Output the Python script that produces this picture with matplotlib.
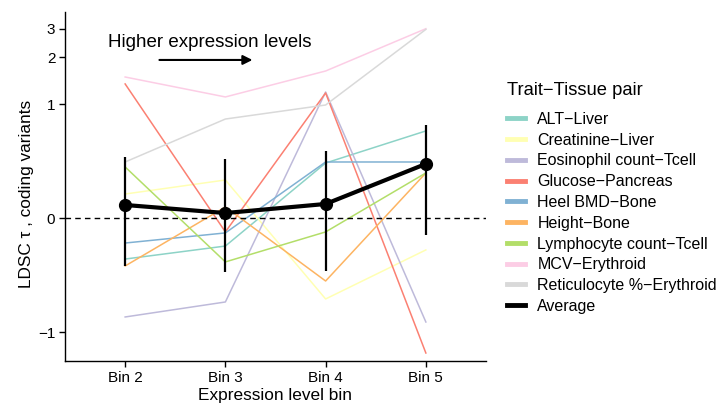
import numpy as np
import matplotlib
matplotlib.use("Agg")
import matplotlib.pyplot as plt
from matplotlib.lines import Line2D

plt.rcParams['font.family'] = ['Liberation Sans', 'DejaVu Sans']

# ---- data ----
bins = ["Bin 2", "Bin 3", "Bin 4", "Bin 5"]
pairs = ["ALT\u2212Liver", "Creatinine\u2212Liver", "Eosinophil count\u2212Tcell",
         "Glucose\u2212Pancreas", "Heel BMD\u2212Bone", "Height\u2212Bone",
         "Lymphocyte count\u2212Tcell", "MCV\u2212Erythroid", "Reticulocyte %\u2212Erythroid"]
colors = ["#8DD3C7", "#FFFFB3", "#BEBADA", "#FB8072", "#80B1D3",
          "#FDB462", "#B3DE69", "#FCCDE5", "#D9D9D9"]

alt_liver       = [-0.254, -0.168, 0.360, 0.655]
creatinine      = [0.146, 0.237, -0.585, -0.193]
eosinophil      = [-0.788, -0.616, 1.203, -0.853]
glucose         = [1.355, -0.081, 1.186, -1.363]
heel_bmd        = [-0.149, -0.087, 0.368, 0.368]
height          = [-0.303, 0.067, -0.420, 0.286]
lymphocyte      = [0.330, -0.274, -0.081, 0.286]
mcv             = [1.50, 1.117, 1.637, 3.00]
reticulocyte    = [0.368, 0.795, 0.989, 2.97]

average     = [0.079, 0.031, 0.085, 0.353]
average_lo  = [-0.303, -0.348, -0.340, -0.0995]
average_hi  = [0.408, 0.392, 0.459, 0.722]

series = [alt_liver, creatinine, eosinophil, glucose, heel_bmd,
          height, lymphocyte, mcv, reticulocyte]

# pseudo-log style axis transform
S = 0.42
def fwd(v):
    return np.arcsinh(np.asarray(v) / S)
def inv(t):
    return S * np.sinh(np.asarray(t))

W, H = 727, 415
fig = plt.figure(figsize=(W / 100, H / 100), dpi=100)
ax = fig.add_axes([65/W, 1-361/H, (486-65)/W, (361-12)/H])
ax.set_yscale('function', functions=(fwd, inv))

x = np.arange(1, len(bins) + 1)

for vals, col in zip(series, colors):
    ax.plot(x, vals, color=col, lw=1.1, zorder=2)

ax.axhline(0, color='black', lw=1.0, ls=(0, (4, 3)), zorder=3)

ax.vlines(x, average_lo, average_hi, color='black', lw=1.6, zorder=4)
ax.plot(x, average, color='black', lw=3.0, marker='o', ms=8.5, zorder=5)

ax.set_xlim(0.4, 4.6)
ax.set_ylim(-1.532, 3.80)
ax.set_xticks(x)
ax.set_xticklabels(bins, fontsize=11)
ax.set_yticks([-1, 0, 1, 2, 3])
ax.set_yticklabels(["\u22121", "0", "1", "2", "3"], fontsize=11)
ax.minorticks_off()

for side in ['top', 'right']:
    ax.spines[side].set_visible(False)
for side in ['left', 'bottom']:
    ax.spines[side].set_linewidth(1.0)
ax.tick_params(axis='both', direction='out', length=4, width=1.0, colors='black', pad=3)

ax.set_xlabel("Expression level bin", fontsize=12.4, labelpad=2)
ax.set_ylabel("LDSC \u03c4 , coding variants", fontsize=12.4)
ax.yaxis.set_label_coords(-0.073, 0.48)

ax.text(1.84, 2.48, "Higher expression levels", fontsize=13.5, ha='center', va='center')
ax.annotate("", xy=(2.27, 1.92), xytext=(1.342, 1.92),
            arrowprops=dict(arrowstyle='-|>', color='black', lw=1.5,
                            mutation_scale=14, shrinkA=0, shrinkB=0))

# legend
fig.text(507/W, 1-90.7/H, "Trait\u2212Tissue pair", fontsize=13.2, ha='left', va='center')
handles = [Line2D([0], [0], color=c, lw=3.5) for c in colors]
handles.append(Line2D([0], [0], color='black', lw=3.5))
labels = pairs + ["Average"]
fig.legend(handles, labels, loc='upper left', bbox_to_anchor=(507/W, 1-112/H),
           frameon=False, fontsize=11.5, handlelength=1.15, handletextpad=0.75,
           labelspacing=0.36, borderaxespad=0, borderpad=0)

fig.savefig("out.png", dpi=100)
